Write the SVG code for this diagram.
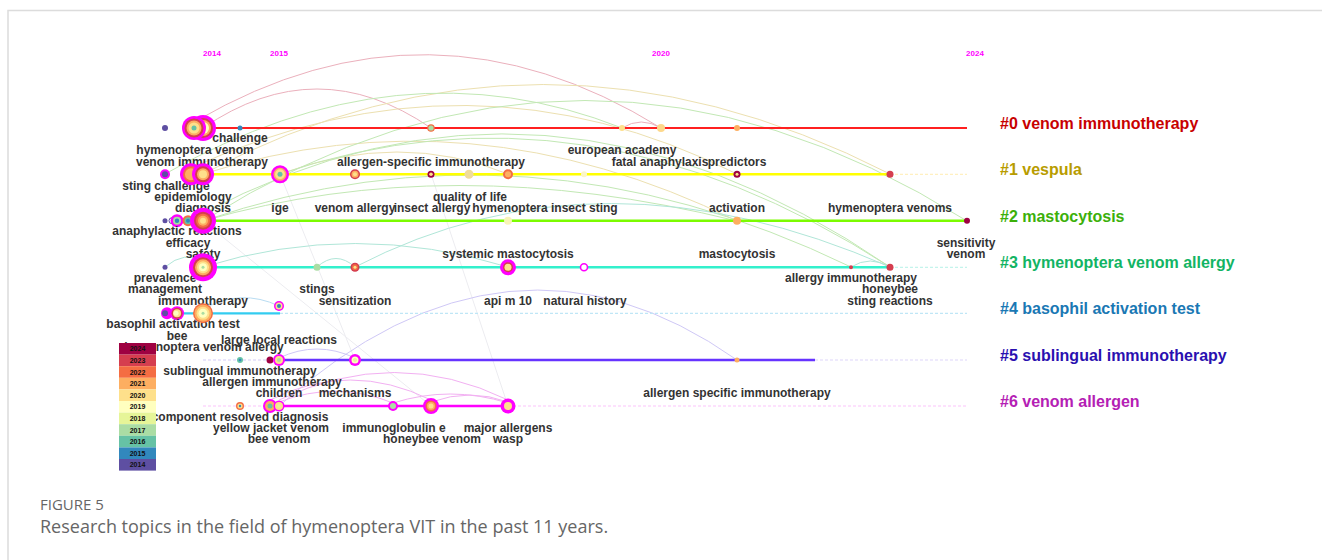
<svg xmlns="http://www.w3.org/2000/svg" width="1322" height="560" viewBox="0 0 1322 560">
<style>
.lb{font-family:"Liberation Sans",Arial,sans-serif;font-weight:bold;font-size:12px;fill:#333;text-anchor:middle}
.cl{font-family:"Liberation Sans",Arial,sans-serif;font-weight:bold;font-size:16px}
.yr{font-family:"Liberation Sans",Arial,sans-serif;font-weight:bold;font-size:8px;fill:#ff00ff;text-anchor:middle}
.lg{font-family:"Liberation Sans",Arial,sans-serif;font-weight:bold;font-size:7px;fill:#111;text-anchor:middle}
.cap{font-family:"Open Sans","Liberation Sans",sans-serif;fill:#666}
.arc{fill:none;stroke-width:1}
.pk{stroke:#ebb0bc}.tn{stroke:#ece0b0}.gn{stroke:#c2e8b4}.tl{stroke:#b0e6d8}.bl{stroke:#b8dcf2}.pu{stroke:#cfc8f6}.mg{stroke:#f2b0f2}.gy{stroke:#ececf0}
.mgo{fill:#ff00ff}
.dash{stroke-width:1.2;stroke-dasharray:3 2;fill:none}
</style>
<rect width="1322" height="560" fill="#fff"/>
<path d="M8 560 L8 10.5 L1322 10.5" fill="none" stroke="#dcdcdc" stroke-width="1.5"/>

<g id="years">
<text class="yr" x="212" y="55.5">2014</text>
<text class="yr" x="279" y="55.5">2015</text>
<text class="yr" x="661" y="55.5">2020</text>
<text class="yr" x="975" y="55.5">2024</text>
</g>

<g id="connectors">
<path class="arc gy" d="M203 221 L431 406"/>
<path class="arc gy" d="M280 174 L355 360"/>
<path class="arc gy" d="M431 174 L508 406"/>
<path class="arc pk" d="M196 121 Q430 -15 661 128"/>
<path class="arc pk" d="M203 128 Q317 50 431 128"/>
<path class="arc pk" d="M622 128 Q641 116 661 128"/>
<path class="arc tn" d="M203 174 Q540 -5 890 174"/>
<path class="arc tn" d="M191 168 Q470 40 737 174"/>
<path class="arc tn" d="M203 174 Q470 90 737 221"/>
<path class="arc tn" d="M280 174 Q400 130 508 174"/>
<path class="arc gn" d="M203 221 Q585 -20 967 221"/>
<path class="arc gn" d="M200 215 Q545 30 890 267"/>
<path class="arc gn" d="M280 174 Q585 70 890 267"/>
<path class="arc gn" d="M203 221 Q527 110 851 267"/>
<path class="arc gn" d="M165 174 Q400 40 622 128"/>
<path class="arc gn" d="M203 221 Q450 150 737 221"/>
<path class="arc tl" d="M203 267 Q355 220 508 267"/>
<path class="arc tl" d="M317 267 Q336 250 355 267"/>
<path class="arc tl" d="M355 267 Q600 140 890 267"/>
<path class="arc tl" d="M165 267 Q185 250 203 262"/>
<path class="arc tl" d="M851 267 Q870 255 890 267"/>
<path class="arc bl" d="M203 309 Q241 288 279 306"/>
<path class="arc pu" d="M279 406 Q510 200 737 360"/>
<path class="arc pu" d="M279 358 Q317 340 355 358"/>
<path class="arc mg" d="M279 400 Q395 345 508 400"/>
<path class="arc mg" d="M270 400 Q350 360 431 400"/>
<path class="arc mg" d="M393 403 Q450 385 508 403"/>
<path class="arc mg" d="M279 402 Q336 380 393 403"/>
<path class="arc mg" d="M431 402 Q470 388 508 402"/>
</g>

<g id="timelines">
<line x1="203" y1="128" x2="967" y2="128" stroke="#ff2020" stroke-width="2.2"/>
<line x1="203" y1="174.3" x2="890" y2="174.3" stroke="#ffff00" stroke-width="2.5"/>
<line x1="890" y1="174.3" x2="967" y2="174.3" class="dash" stroke="#fff0c0"/>
<line x1="203" y1="220.7" x2="967" y2="220.7" stroke="#7cfc00" stroke-width="2.5"/>
<line x1="203" y1="267.3" x2="890" y2="267.3" stroke="#33f0cc" stroke-width="2.5"/>
<line x1="890" y1="267.3" x2="967" y2="267.3" class="dash" stroke="#c4f4ec"/>
<line x1="166" y1="313.3" x2="280" y2="313.3" stroke="#33ccf0" stroke-width="2.2"/>
<line x1="280" y1="313.3" x2="967" y2="313.3" class="dash" stroke="#bfe6f6"/>
<line x1="203" y1="360" x2="280" y2="360" class="dash" stroke="#d4ccf8"/>
<line x1="280" y1="360" x2="815" y2="360" stroke="#6633ff" stroke-width="2.5"/>
<line x1="815" y1="360" x2="967" y2="360" class="dash" stroke="#ddd6fa"/>
<line x1="203" y1="406" x2="270" y2="406" class="dash" stroke="#fbc4fb"/>
<line x1="270" y1="406" x2="508" y2="406" stroke="#ff00ff" stroke-width="2.5"/>
<line x1="508" y1="406" x2="967" y2="406" class="dash" stroke="#fbc4fb"/>
</g>

<!-- Row 0 -->
<g id="n0-165"><circle cx="165" cy="128" r="3" fill="#5e4fa2"/></g>
<g id="n-venom-immunotherapy">
<circle cx="203" cy="128" r="13" class="mgo"/><circle cx="203" cy="128" r="10" fill="#d53e4f"/><circle cx="203" cy="128" r="8" fill="#fdae61"/><circle cx="203" cy="128" r="6" fill="#ffffbf"/>
<text class="lb" x="202" y="166">venom immunotherapy</text>
</g>
<g id="n-hymenoptera-venom">
<circle cx="194" cy="128" r="12" class="mgo"/><circle cx="194" cy="128" r="9.5" fill="#d53e4f"/><circle cx="194" cy="128" r="7.5" fill="#fdae61"/><circle cx="194" cy="128" r="5.5" fill="#fee08b"/><circle cx="194" cy="128" r="2.5" fill="#66c2a5"/>
<text class="lb" x="195" y="154">hymenoptera venom</text>
</g>
<g id="n-challenge"><circle cx="240" cy="128" r="2.5" fill="#3288bd"/><text class="lb" x="240" y="142">challenge</text></g>
<g id="n-allergen-specific-immunotherapy"><circle cx="431" cy="128" r="3.2" fill="#abdda4" stroke="#f46d43" stroke-width="1.2"/><text class="lb" x="431" y="166">allergen-specific immunotherapy</text></g>
<g id="n-european-academy"><circle cx="622" cy="128" r="3" fill="#fee08b"/><text class="lb" x="622" y="154">european academy</text></g>
<g id="n-fatal-anaphylaxis"><circle cx="661" cy="128" r="4" fill="#fdd88b"/><text class="lb" x="660" y="166">fatal anaphylaxis</text></g>
<g id="n-predictors"><circle cx="737" cy="128" r="3" fill="#fdae61"/><text class="lb" x="737" y="166">predictors</text></g>

<!-- Row 1 -->
<g id="n-sting-challenge"><circle cx="165" cy="174.3" r="5" class="mgo"/><circle cx="165" cy="174.3" r="3" fill="#5e4fa2"/><text class="lb" x="166" y="190">sting challenge</text></g>
<g id="n-epidemiology"><circle cx="191" cy="174.3" r="11" class="mgo"/><circle cx="191" cy="174.3" r="8" fill="#f46d43"/><circle cx="191" cy="174.3" r="6" fill="#fdae61"/><text class="lb" x="193" y="201">epidemiology</text></g>
<g id="n-diagnosis"><circle cx="203" cy="174.3" r="11" class="mgo"/><circle cx="203" cy="174.3" r="8" fill="#d53e4f"/><circle cx="203" cy="174.3" r="6" fill="#fdae61"/><circle cx="203" cy="174.3" r="4" fill="#fee08b"/><text class="lb" x="203" y="212">diagnosis</text></g>
<g id="n-ige"><circle cx="280" cy="174.3" r="9" class="mgo"/><circle cx="280" cy="174.3" r="6.5" fill="#fdae61"/><circle cx="280" cy="174.3" r="5" fill="#fee08b"/><circle cx="280" cy="174.3" r="2.5" fill="#66c2a5"/><text class="lb" x="280" y="212">ige</text></g>
<g id="n-venom-allergy"><circle cx="355" cy="174.3" r="5" fill="#d53e4f"/><circle cx="355" cy="174.3" r="3.5" fill="#fdae61"/><circle cx="355" cy="174.3" r="2" fill="#fee08b"/><text class="lb" x="355" y="212">venom allergy</text></g>
<g id="n-insect-allergy"><circle cx="431" cy="174.3" r="3.5" fill="#9e0142"/><circle cx="431" cy="174.3" r="1.8" fill="#fee08b"/><text class="lb" x="432" y="212">insect allergy</text></g>
<g id="n-quality-of-life"><circle cx="469" cy="174.3" r="4.5" fill="#f0dc9b"/><text class="lb" x="470" y="201">quality of life</text></g>
<g id="n-hymenoptera-insect-sting"><circle cx="508" cy="174.3" r="5" fill="#f46d43"/><circle cx="508" cy="174.3" r="3" fill="#fdae61"/><text class="lb" x="545" y="212">hymenoptera insect sting</text></g>
<g id="n1-584"><circle cx="584" cy="174.3" r="3" fill="#fbf6c8"/></g>
<g id="n1-737"><circle cx="737" cy="174.3" r="3.5" fill="#9e0142"/><circle cx="737" cy="174.3" r="1.5" fill="#fee08b"/></g>
<g id="n-hymenoptera-venoms"><circle cx="890" cy="174.3" r="3.5" fill="#d53e4f"/><text class="lb" x="890" y="212">hymenoptera venoms</text></g>

<!-- Row 2 -->
<g id="n2-165"><circle cx="165" cy="220.7" r="2.5" fill="#5e4fa2"/></g>
<g id="n-anaphylactic-reactions"><circle cx="172" cy="220.7" r="3" fill="#fff" stroke="#5e4fa2" stroke-width="1"/><circle cx="177" cy="220.7" r="6.5" class="mgo"/><circle cx="177" cy="220.7" r="4" fill="#abdda4"/><circle cx="177" cy="220.7" r="2.2" fill="#3288bd"/><text class="lb" x="177" y="235">anaphylactic reactions</text></g>
<g id="n-efficacy"><circle cx="188" cy="220.7" r="5.5" fill="#f46d43"/><circle cx="188" cy="220.7" r="3.5" fill="#66c2a5"/><circle cx="188" cy="220.7" r="2" fill="#3288bd"/><text class="lb" x="188" y="247">efficacy</text></g>
<g id="n-safety"><circle cx="203" cy="220.7" r="13" class="mgo"/><circle cx="203" cy="220.7" r="9" fill="#d53e4f"/><circle cx="203" cy="220.7" r="7" fill="#f46d43"/><circle cx="203" cy="220.7" r="5" fill="#fdae61"/><circle cx="203" cy="220.7" r="3" fill="#fee08b"/><text class="lb" x="203" y="258">safety</text></g>
<g id="n2-508"><circle cx="508" cy="220.7" r="4" fill="#f8f4b8"/></g>
<g id="n-activation"><circle cx="737" cy="220.7" r="4" fill="#fdae61"/><text class="lb" x="737" y="212">activation</text></g>
<g id="n-sensitivity-venom"><circle cx="967" cy="220.7" r="3" fill="#9e0142"/><text class="lb" x="966" y="247">sensitivity</text><text class="lb" x="966" y="258">venom</text></g>

<!-- Row 3 -->
<g id="n-prevalence"><circle cx="165" cy="267.3" r="2.5" fill="#5e4fa2"/><text class="lb" x="165" y="282">prevalence</text><text class="lb" x="165" y="293">management</text></g>
<g id="n-immunotherapy"><circle cx="203" cy="267.3" r="14" class="mgo"/><circle cx="203" cy="267.3" r="10" fill="#d53e4f"/><circle cx="203" cy="267.3" r="8" fill="#fdae61"/><circle cx="203" cy="267.3" r="6" fill="#fee08b"/><circle cx="203" cy="267.3" r="4" fill="#ffffbf"/><circle cx="203" cy="267.3" r="1.5" fill="#abdda4"/><text class="lb" x="203" y="305">immunotherapy</text></g>
<g id="n-stings"><circle cx="317" cy="267.3" r="3.5" fill="#abdda4"/><text class="lb" x="317" y="293">stings</text></g>
<g id="n-sensitization"><circle cx="355" cy="267.3" r="4.5" fill="#d53e4f"/><circle cx="355" cy="267.3" r="3" fill="#f46d43"/><circle cx="355" cy="267.3" r="1.5" fill="#fee08b"/><text class="lb" x="355" y="305">sensitization</text></g>
<g id="n-systemic-mastocytosis"><circle cx="508" cy="267.3" r="8" class="mgo"/><circle cx="508" cy="267.3" r="5" fill="#d53e4f"/><circle cx="508" cy="267.3" r="3.5" fill="#fee08b"/><text class="lb" x="508" y="258">systemic mastocytosis</text><text class="lb" x="508" y="305">api m 10</text></g>
<g id="n-natural-history"><circle cx="584" cy="267.3" r="3.5" fill="#fff" stroke="#ff00ff" stroke-width="1.6"/><text class="lb" x="585" y="305">natural history</text></g>
<g id="n-mastocytosis"><text class="lb" x="737" y="258">mastocytosis</text></g>
<g id="n-allergy-immunotherapy"><circle cx="851" cy="267.3" r="2" fill="#d53e4f"/><text class="lb" x="851" y="282">allergy immunotherapy</text></g>
<g id="n-honeybee"><circle cx="890" cy="267.3" r="3.5" fill="#d53e4f"/><text class="lb" x="890" y="293">honeybee</text><text class="lb" x="890" y="305">sting reactions</text></g>

<!-- Row 4 -->
<g id="n-basophil-activation-test">
<circle cx="167" cy="313.3" r="6" class="mgo"/><circle cx="177" cy="313.3" r="7" class="mgo"/><circle cx="177" cy="313.3" r="5.5" fill="#d53e4f"/><circle cx="177" cy="313.3" r="4" fill="#fee08b"/><circle cx="176" cy="313.3" r="2.5" fill="#ffffbf"/><circle cx="165" cy="313.3" r="3" fill="#5e4fa2"/>
<text class="lb" x="173" y="328">basophil activation test</text><text class="lb" x="177" y="339.5">bee</text>
</g>
<g id="n4-203"><circle cx="203" cy="313.3" r="10" fill="#f46d43"/><circle cx="203" cy="313.3" r="8.5" fill="#fdae61"/><circle cx="203" cy="313.3" r="6.5" fill="#fee08b"/><circle cx="203" cy="313.3" r="4.5" fill="#ffffbf"/><circle cx="203" cy="313.3" r="1.5" fill="#abdda4"/></g>
<g id="n4-279"><circle cx="279" cy="306" r="5" class="mgo"/><circle cx="279" cy="306" r="3.5" fill="#fee08b"/><circle cx="279" cy="306" r="2" fill="#3288bd"/></g>

<!-- Row 5 -->
<g id="n-hymenoptera-venom-allergy"><circle cx="240" cy="360" r="3" fill="#66c2a5"/><circle cx="240" cy="360" r="1.3" fill="#3288bd"/><text class="lb" x="204" y="351">hymenoptera venom allergy</text><text class="lb" x="240" y="375">sublingual immunotherapy</text></g>
<g id="n-allergen-immunotherapy"><circle cx="270" cy="360" r="3.5" fill="#9e0142"/><text class="lb" x="272" y="386">allergen immunotherapy</text></g>
<g id="n-large-local-reactions"><circle cx="279" cy="360" r="6" class="mgo"/><circle cx="279" cy="360" r="4" fill="#fee08b"/><circle cx="279" cy="360" r="2" fill="#abdda4"/><text class="lb" x="279" y="344">large local reactions</text><text class="lb" x="279" y="397">children</text></g>
<g id="n-mechanisms"><circle cx="355" cy="360" r="6" class="mgo"/><circle cx="355" cy="360" r="3.5" fill="#ffffbf"/><circle cx="355" cy="360" r="2" fill="#e6f598"/><text class="lb" x="355" y="397">mechanisms</text></g>
<g id="n5-737"><circle cx="737" cy="360" r="2.5" fill="#fdae61"/></g>

<!-- Row 6 -->
<g id="n-component-resolved-diagnosis"><circle cx="240" cy="406" r="4" fill="#f46d43"/><circle cx="240" cy="406" r="2.6" fill="#fee08b"/><circle cx="240" cy="406" r="1.2" fill="#3288bd"/><text class="lb" x="240" y="421">component resolved diagnosis</text></g>
<g id="n-yellow-jacket-venom"><circle cx="270" cy="406" r="7" class="mgo"/><circle cx="270" cy="406" r="5" fill="#fdae61"/><circle cx="270" cy="406" r="2.5" fill="#66c2a5"/><text class="lb" x="271" y="432">yellow jacket venom</text></g>
<g id="n-bee-venom"><circle cx="279" cy="406" r="5.5" class="mgo"/><circle cx="279" cy="406" r="4" fill="#fee08b"/><circle cx="279" cy="406" r="2" fill="#e6f598"/><text class="lb" x="279" y="443">bee venom</text></g>
<g id="n-immunoglobulin-e"><circle cx="393" cy="406" r="5" class="mgo"/><circle cx="393" cy="406" r="3" fill="#abdda4"/><text class="lb" x="394" y="432">immunoglobulin e</text></g>
<g id="n-honeybee-venom"><circle cx="431" cy="406" r="8" class="mgo"/><circle cx="431" cy="406" r="5.5" fill="#f46d43"/><circle cx="431" cy="406" r="4" fill="#fdae61"/><circle cx="431" cy="406" r="2.5" fill="#fee08b"/><text class="lb" x="432" y="443">honeybee venom</text></g>
<g id="n-major-allergens"><circle cx="508" cy="406" r="7.5" class="mgo"/><circle cx="508" cy="406" r="4" fill="#fee08b"/><text class="lb" x="508" y="432">major allergens</text><text class="lb" x="508" y="443">wasp</text></g>
<g id="n-allergen-specific-immunotherapy-6"><text class="lb" x="737" y="397">allergen specific immunotherapy</text></g>

<g id="year-legend">
<rect x="119" y="343" width="37" height="11.6" fill="#9e0142"/>
<rect x="119" y="354.6" width="37" height="11.6" fill="#d53e4f"/>
<rect x="119" y="366.2" width="37" height="11.6" fill="#f46d43"/>
<rect x="119" y="377.8" width="37" height="11.6" fill="#fdae61"/>
<rect x="119" y="389.4" width="37" height="11.6" fill="#fee08b"/>
<rect x="119" y="401" width="37" height="11.6" fill="#ffffbf"/>
<rect x="119" y="412.6" width="37" height="11.6" fill="#e6f598"/>
<rect x="119" y="424.2" width="37" height="11.6" fill="#abdda4"/>
<rect x="119" y="435.8" width="37" height="11.6" fill="#66c2a5"/>
<rect x="119" y="447.4" width="37" height="11.6" fill="#3288bd"/>
<rect x="119" y="459" width="37" height="11.6" fill="#5e4fa2"/>
<text class="lg" x="137.5" y="351.3">2024</text>
<text class="lg" x="137.5" y="362.9">2023</text>
<text class="lg" x="137.5" y="374.5">2022</text>
<text class="lg" x="137.5" y="386.1">2021</text>
<text class="lg" x="137.5" y="397.7">2020</text>
<text class="lg" x="137.5" y="409.3">2019</text>
<text class="lg" x="137.5" y="420.9">2018</text>
<text class="lg" x="137.5" y="432.5">2017</text>
<text class="lg" x="137.5" y="444.1">2016</text>
<text class="lg" x="137.5" y="455.7">2015</text>
<text class="lg" x="137.5" y="467.3">2014</text>
</g>

<g id="cluster-labels">
<text class="cl" x="1000" y="129" fill="#c80000">#0 venom immunotherapy</text>
<text class="cl" x="1000" y="175" fill="#b89c00">#1 vespula</text>
<text class="cl" x="1000" y="222" fill="#3cb00a">#2 mastocytosis</text>
<text class="cl" x="1000" y="268" fill="#12b464">#3 hymenoptera venom allergy</text>
<text class="cl" x="1000" y="314" fill="#1a78b4">#4 basophil activation test</text>
<text class="cl" x="1000" y="361" fill="#2a10b0">#5 sublingual immunotherapy</text>
<text class="cl" x="1000" y="407" fill="#b420b4">#6 venom allergen</text>
</g>

<g id="caption">
<text class="cap" x="40" y="510" font-size="15">FIGURE 5</text>
<text class="cap" x="40" y="533" font-size="18">Research topics in the field of hymenoptera VIT in the past 11 years.</text>
</g>
</svg>
